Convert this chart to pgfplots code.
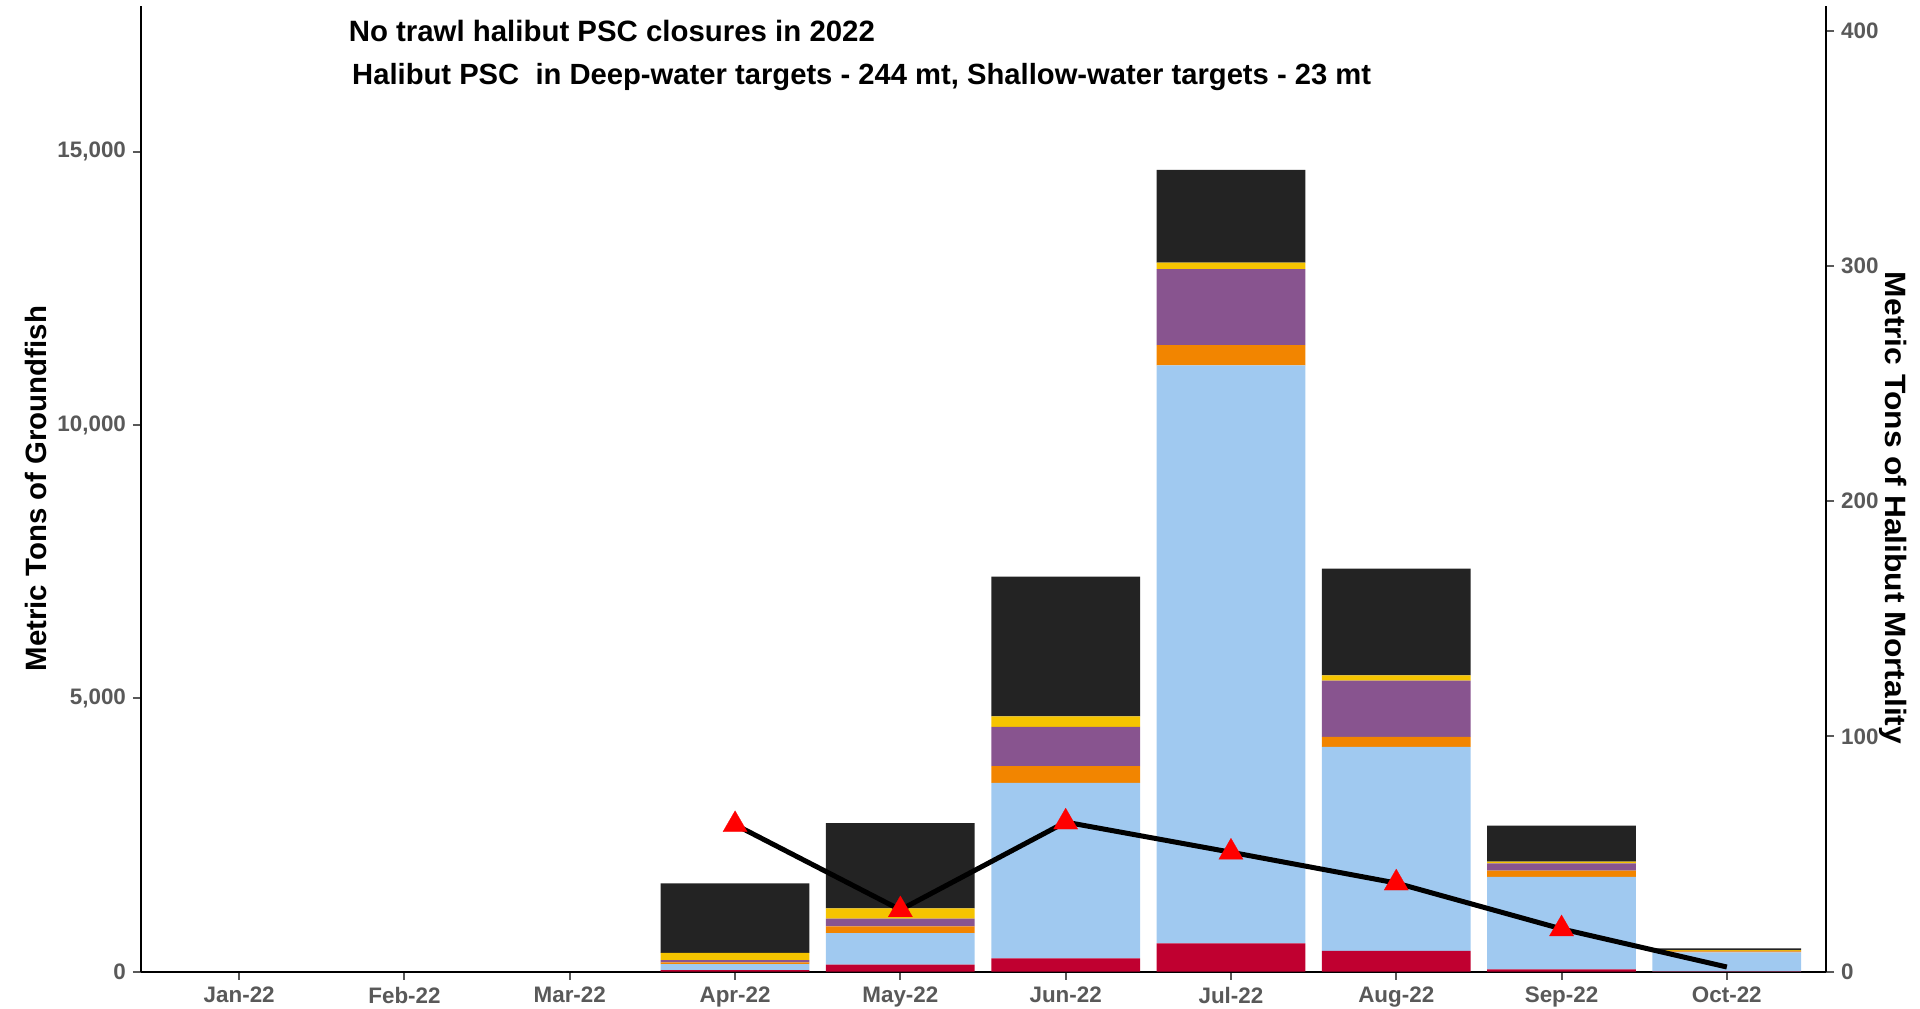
\documentclass[border=0pt]{standalone}
\usepackage{fontspec}
\setmainfont{Liberation Sans}
\usepackage{pgfplots}
\pgfplotsset{compat=1.18}
\usepackage{pgfplotstable}
\definecolor{cCrim}{RGB}{192,0,48}
\definecolor{cBlue}{RGB}{160,201,240}
\definecolor{cOrange}{RGB}{242,133,0}
\definecolor{cPurple}{RGB}{136,84,143}
\definecolor{cYellow}{RGB}{245,196,0}
\definecolor{cBlack}{RGB}{35,35,35}
\definecolor{tickgray}{RGB}{89,89,89}
\pgfplotstableread{
idx crim blue orange purple yellow black
0 0 0 0 0 0 0
1 0 0 0 0 0 0
2 0 0 0 0 0 0
3 30 110 30 42 134 1271
4 128 580 122 140 189 1559
5 244 3211 305 720 189 2558
6 520 10573 372 1387 122 1696
7 379 3736 183 1026 98 1953
8 43 1691 116 134 31 659
9 5 350 15 12 15 30
}\groundfish
\pgfplotstableread{
idx hal
3 62.5
4 26.3
5 63.6
6 50.8
7 37.7
8 18.2
9 2.0
}\halibut
\begin{document}
\begin{tikzpicture}[x=1pt,y=1pt]
\useasboundingbox (0,0) rectangle (960,504);
\pgfplotsset{
  common/.style={
    at={(70.5pt,18.15pt)}, anchor=south west, scale only axis,
    width=842.5pt, height=482.65pt,
    xmin=-0.594, xmax=9.6, ymin=0,
    tick align=outside, major tick length=4pt,
    tick style={line width=1pt, color=tickgray},
    axis line style={line width=1.2pt, black, -},
    /pgf/number format/assume math mode=true,
    /pgf/number format/1000 sep={,},
    ticklabel style={font=\fontsize{11.2}{13}\selectfont\bfseries, text=tickgray},
  }
}
\begin{axis}[common,
  ymax=17660,
  ybar stacked, bar width=0.9,
  axis y line*=left, axis x line*=bottom,
  xtick={0,...,9},
  xticklabels={Jan-22,Feb-22,Mar-22,Apr-22,May-22,Jun-22,Jul-22,Aug-22,Sep-22,Oct-22},
  ytick={0,5000,10000,15000},
  scaled y ticks=false,
]
\addplot[fill=cCrim, draw=none] table[x=idx,y=crim]{\groundfish};
\addplot[fill=cBlue, draw=none] table[x=idx,y=blue]{\groundfish};
\addplot[fill=cOrange, draw=none] table[x=idx,y=orange]{\groundfish};
\addplot[fill=cPurple, draw=none] table[x=idx,y=purple]{\groundfish};
\addplot[fill=cYellow, draw=none] table[x=idx,y=yellow]{\groundfish};
\addplot[fill=cBlack, draw=none] table[x=idx,y=black]{\groundfish};
\end{axis}
\begin{axis}[common,
  ymax=410.4,
  axis y line*=right, axis x line=none,
  ytick={0,100,200,300,400},
]
\addplot[black, line width=2.5pt, mark=triangle*, mark size=7pt, mark indices={1,...,6},
  mark options={fill=red, draw=red, line width=0.1pt}] table[x=idx,y=hal]{\halibut};
\end{axis}
\node[anchor=base west, inner sep=0, font=\fontsize{14.7}{16}\selectfont\bfseries] at (174.2,483.2) {No trawl halibut PSC closures in 2022};
\node[anchor=base west, inner sep=0, font=\fontsize{14.6}{16}\selectfont\bfseries] at (175.9,461.5) {Halibut PSC\ \ in Deep-water targets - 244 mt, Shallow-water targets - 23 mt};
\node[anchor=base, rotate=90, inner sep=0, font=\fontsize{14.7}{16}\selectfont\bfseries] at (23.5,259.7) {Metric Tons of Groundfish};
\node[anchor=base, rotate=-90, xscale=1.08, inner sep=0, font=\fontsize{14.7}{16}\selectfont\bfseries] at (942.5,250) {Metric Tons of Halibut Mortality};
\end{tikzpicture}
\end{document}
